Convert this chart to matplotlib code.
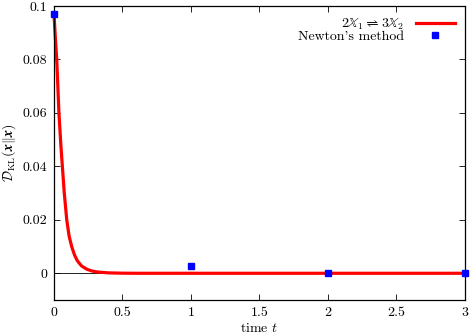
import matplotlib
matplotlib.use("Agg")
import matplotlib.pyplot as plt

plt.rcParams['font.family'] = ['cmr10', 'DejaVu Serif']
plt.rcParams['mathtext.fontset'] = 'cm'
plt.rcParams['axes.formatter.use_mathtext'] = True
plt.rcParams['font.size'] = 10

# Curve
t_curve = [0.0, 0.01, 0.02, 0.036, 0.05, 0.061, 0.075, 0.093, 0.11, 0.129, 0.15, 0.17, 0.2, 0.24, 0.28, 0.33, 0.4, 0.5, 0.6, 1.0, 1.5, 2.0, 2.5, 3.0]
kl_curve = [0.097, 0.088, 0.080, 0.060, 0.048, 0.040, 0.030, 0.020, 0.014, 0.010, 0.0068, 0.0047, 0.0028, 0.0015, 0.0008, 0.0004, 0.00015, 0.00003, 0.0, 0.0, 0.0, 0.0, 0.0, 0.0]

# Newton's method points
t_newton = [0, 1, 2, 3]
kl_newton = [0.097, 0.0027, 0.0, 0.0]

xticks = [0, 0.5, 1, 1.5, 2, 2.5, 3]
xtick_labels = ["0", "0.5", "1", "1.5", "2", "2.5", "3"]
yticks = [0, 0.02, 0.04, 0.06, 0.08, 0.1]
ytick_labels = ["0", "0.02", "0.04", "0.06", "0.08", "0.1"]

fig = plt.figure(figsize=(4.70, 3.34), dpi=100)
ax = fig.add_axes([54/470, 1-300/334, (465-54)/470, (300-6)/334])

ax.axhline(0, color='black', lw=0.6, zorder=1)
ax.plot(t_curve, kl_curve, color='#ff0000', lw=2.3, label=r'$2\mathbb{X}_1 \rightleftharpoons 3\mathbb{X}_2$', zorder=2, clip_on=False)
ax.plot(t_newton, kl_newton, ls='none', marker='s', ms=4.2, color='#0000ff', label="Newton's method", zorder=3, clip_on=False)

ax.set_xlim(0, 3)
ax.set_ylim(-0.01, 0.1)
ax.set_xticks(xticks)
ax.set_xticklabels(xtick_labels)
ax.set_yticks(yticks)
ax.set_yticklabels(ytick_labels)
ax.tick_params(direction='in', top=True, right=True, length=4, width=0.6, pad=5)
for s in ax.spines.values():
    s.set_linewidth(0.9)

ax.set_xlabel(r'time $t$', labelpad=2)
ax.set_ylabel(r'$\mathcal{D}_{\mathrm{KL}}(\boldsymbol{x}\|\boldsymbol{x})$', labelpad=3)

leg = ax.legend(loc='upper right', frameon=False, markerfirst=False, handlelength=2.8,
                borderaxespad=0.55, labelspacing=-0.1, handletextpad=0.85, alignment='right',
                borderpad=0.2)
for txt in leg.get_texts():
    txt.set_ha('right')

fig.savefig('out.png', dpi=100)
